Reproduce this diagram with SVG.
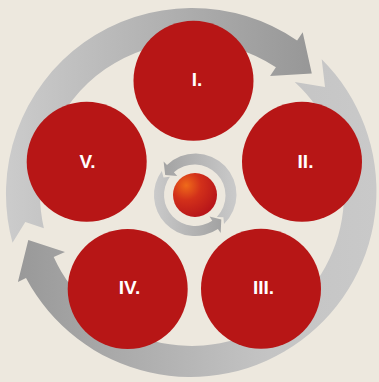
<svg xmlns="http://www.w3.org/2000/svg" width="379" height="382" viewBox="0 0 379 382">
  <defs>
    <linearGradient id="gA" gradientUnits="userSpaceOnUse" x1="10" y1="0" x2="312" y2="0">
      <stop offset="0" stop-color="#cbcbcb"/>
      <stop offset="1" stop-color="#979797"/>
    </linearGradient>
    <linearGradient id="gB" gradientUnits="userSpaceOnUse" x1="376" y1="0" x2="18" y2="0">
      <stop offset="0" stop-color="#c9c9c9"/>
      <stop offset="0.3" stop-color="#c4c4c4"/>
      <stop offset="1" stop-color="#999999"/>
    </linearGradient>
    <linearGradient id="gS1" gradientUnits="userSpaceOnUse" x1="236" y1="0" x2="162" y2="0">
      <stop offset="0" stop-color="#cacaca"/>
      <stop offset="1" stop-color="#a2a2a2"/>
    </linearGradient>
    <linearGradient id="gS2" gradientUnits="userSpaceOnUse" x1="154" y1="0" x2="222" y2="0">
      <stop offset="0" stop-color="#cacaca"/>
      <stop offset="1" stop-color="#a2a2a2"/>
    </linearGradient>
    <radialGradient id="gBall" cx="0.3" cy="0.28" r="0.75">
      <stop offset="0" stop-color="#ef6a1a"/>
      <stop offset="0.45" stop-color="#d2301a"/>
      <stop offset="1" stop-color="#b8161a"/>
    </radialGradient>
  </defs>
  <style>
    .node circle { fill: #b71616; }
    .lbl { font-family: "Liberation Sans", Arial, sans-serif; font-weight: bold; font-size: 19px; fill: #ffffff; text-anchor: middle; }
  </style>
  <rect x="0" y="0" width="379" height="382" fill="#ede8de"/>
  <g id="connectors">
    <path id="arrowA" fill="url(#gA)" d="M12.5,242.8 A186,186 0 0 1 297.1,40.5 L302.7,32.3 L311.8,73.4 L270.1,76.0 L275.9,67.2 A152,152 0 0 0 43.9,228.2 L25.3,221.9 Z"/>
    <path id="arrowB" fill="url(#gB)" d="M321.7,59.2 A186,186 0 1 1 26.0,277.9 L17.9,281.9 L28.3,240.0 L65.0,251.9 L53.7,257.0 A152,152 0 1 0 294.7,81.9 L325.0,87.0 Z"/>
    <path id="arrowS1" fill="url(#gS1)" d="M224.0,224.0 A41,41 0 0 0 167.0,165.0 L163.6,161.4 L165.2,174.9 L177.3,176.0 L173.9,172.3 A31,31 0 0 1 216.9,216.9 L223.4,217.2 Z"/>
    <path id="arrowS2" fill="url(#gS2)" d="M161.8,170.9 A41,41 0 0 0 217.9,229.0 L220.7,233.1 L221.3,219.6 L209.5,216.6 L212.3,220.7 A31,31 0 0 1 169.9,176.8 L163.5,177.5 Z"/>
  </g>
  <g id="core">
    <circle cx="195" cy="195" r="22" fill="url(#gBall)"/>
  </g>
  <g id="node1" class="node">
    <circle cx="193.5" cy="80.7" r="60"/>
    <text class="lbl" x="197" y="86">I.</text>
  </g>
  <g id="node2" class="node">
    <circle cx="302" cy="161.7" r="60"/>
    <text class="lbl" x="305.5" y="168">II.</text>
  </g>
  <g id="node3" class="node">
    <circle cx="261" cy="288.7" r="60"/>
    <text class="lbl" x="263.5" y="294">III.</text>
  </g>
  <g id="node4" class="node">
    <circle cx="127.7" cy="289" r="60"/>
    <text class="lbl" x="129.5" y="294">IV.</text>
  </g>
  <g id="node5" class="node">
    <circle cx="86.7" cy="161.7" r="60"/>
    <text class="lbl" x="87.5" y="168">V.</text>
  </g>
</svg>
